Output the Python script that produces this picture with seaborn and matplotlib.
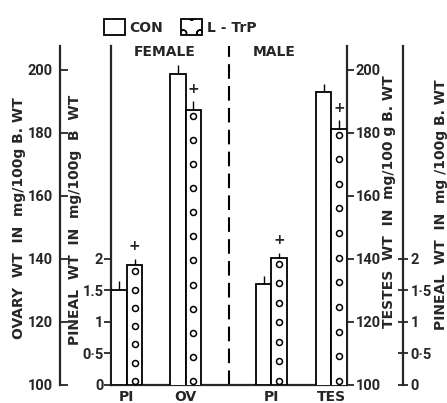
import numpy as np
import pandas as pd
import matplotlib
matplotlib.use("Agg")
import matplotlib.pyplot as plt
import matplotlib.transforms as mtransforms
import seaborn as sns
from matplotlib.patches import Patch

# ---------------- data ----------------
sexes = ["FEMALE", "MALE"]
treatments = ["CON", "L - TrP"]
pineal_con = [1.50, 1.60]
pineal_con_se = [0.15, 0.13]
pineal_trp = [1.90, 2.02]
pineal_trp_se = [0.10, 0.08]
gonad_names = ["OV", "TES"]
gonad_con = [198.7, 193.0]
gonad_con_se = [3.0, 2.6]
gonad_trp = [187.4, 181.4]
gonad_trp_se = [2.6, 2.6]
tick_labels = ["PI", "OV", "PI", "TES"]
organ_ticks = [100, 120, 140, 160, 180, 200]
pineal_ticks = [0, 0.5, 1, 1.5, 2]
pineal_left_labels = ["0", "0·5", "1", "1.5", "2"]
pineal_right_labels = ["0", "0·5", "1", "1·5", "2"]

# ---------------- layout ----------------
slots = [0.0, 1.0, 2.46, 3.48]      # female PI, OV, male PI, TES
pair_w = 0.53
pineal_ylim = (0, 5.38)
organ_ylim = (100, 207.6)
FONT = "DejaVu Sans"
NUM_FONT = ["Roboto", "DejaVu Sans"]
NUM_SIZE = 10.5

sns.set_style("white")
plt.rcParams["font.family"] = [FONT]
plt.rcParams["font.weight"] = "bold"
plt.rcParams["font.size"] = 10

W_PX, H_PX = 447, 403
fig = plt.figure(figsize=(W_PX / 100, H_PX / 100), dpi=100)
fig.patch.set_facecolor("white")
def fx(px): return px / W_PX
def fy(py): return 1 - py / H_PX
AX_L, AX_R, AX_B, AX_T = 111, 347, 385, 46
ax_p = fig.add_axes([fx(AX_L), fy(AX_B), (AX_R - AX_L) / W_PX, (AX_B - AX_T) / H_PX])
ax_o = ax_p.twinx()
ax_o2 = ax_p.twinx()
ax_p2 = ax_p.twinx()
axes_h_px = AX_B - AX_T

pin_df = pd.DataFrame({
    "pos": [slots[0], slots[2]] * 2,
    "value": pineal_con + pineal_trp,
    "se": pineal_con_se + pineal_trp_se,
    "treatment": [treatments[0]] * 2 + [treatments[1]] * 2,
})
gon_df = pd.DataFrame({
    "pos": [slots[1], slots[3]] * 2,
    "value": gonad_con + gonad_trp,
    "se": gonad_con_se + gonad_trp_se,
    "treatment": [treatments[0]] * 2 + [treatments[1]] * 2,
})

LW = 1.3
for ax, df, ylim, step in [(ax_p, pin_df, pineal_ylim, 19), (ax_o, gon_df, organ_ylim, 24)]:
    spacing = np.diff(sorted(df["pos"].unique())).min()
    sns.barplot(data=df, x="pos", y="value", hue="treatment", hue_order=treatments,
                native_scale=True, width=pair_w / spacing, dodge=True, gap=0,
                palette=["white", "white"], edgecolor="black", linewidth=LW,
                errorbar=None, legend=False, ax=ax, zorder=3)
    ax.set_ylim(*ylim)
    ax.set_xlabel("")
    ax.set_ylabel("")
    blend = mtransforms.blended_transform_factory(ax.transData, ax.transAxes)
    for _, r in df.iterrows():
        off = -pair_w / 4 if r["treatment"] == treatments[0] else pair_w / 4
        x = r["pos"] + off
        ax.errorbar([x], [r["value"]], yerr=[[0], [r["se"]]], fmt="none",
                    ecolor="black", elinewidth=1.0, capsize=0, zorder=4)
        if r["treatment"] == treatments[1]:
            ax.annotate("+", (x, r["value"] + r["se"]), xytext=(0, 9),
                        textcoords="offset points", ha="center", va="center",
                        fontsize=10, fontweight="bold", zorder=5)
            top = (r["value"] - ylim[0]) / (ylim[1] - ylim[0])
            span_px = top * axes_h_px - 10
            n = int(round(span_px / step)) + 1
            ys = np.linspace(4 / axes_h_px, top - 6 / axes_h_px, n)
            ax.plot([x] * n, ys, transform=blend, ls="none", marker="o", ms=4.3,
                    mfc="white", mec="black", mew=1.1, zorder=5)

ax_p.set_xlim(-0.27, slots[3] + 0.265)

for a in (ax_p, ax_o, ax_o2, ax_p2):
    for s in a.spines.values():
        s.set_visible(False)
        s.set_linewidth(1.6)
    a.tick_params(axis="both", which="both", length=0)

# pineal left axis (axes left edge)
ax_p.spines["left"].set_visible(True)
ax_p.spines["bottom"].set_visible(True)
ax_p.set_yticks(pineal_ticks)
ax_p.set_yticklabels(pineal_left_labels, family=NUM_FONT, fontsize=NUM_SIZE)
ax_p.tick_params(axis="y", direction="out", length=5, width=1.3, pad=0.5)
ax_p.set_xticks(slots)
ax_p.set_xticklabels(tick_labels, fontsize=10)
ax_p.tick_params(axis="x", length=0, pad=3.5)
ax_p.axvline((slots[1] + slots[2]) / 2, ymin=0, ymax=1.0, color="black",
             lw=1.5, ls=(0, (7, 3.5)), zorder=1)

# testes axis (right edge of the plot)
ax_o.spines["right"].set_visible(True)
ax_o.set_yticks(organ_ticks)
ax_o.set_yticklabels([str(t) for t in organ_ticks], family=NUM_FONT, fontsize=NUM_SIZE)
ax_o.tick_params(axis="y", direction="out", length=5, width=1.3, pad=1)

# ovary axis (far left)
ax_o2.set_ylim(*organ_ylim)
ax_o2.yaxis.set_ticks_position("left")
ax_o2.yaxis.set_label_position("left")
ax_o2.spines["left"].set_visible(True)
ax_o2.spines["left"].set_position(("axes", (60 - AX_L) / (AX_R - AX_L)))
ax_o2.set_yticks(organ_ticks)
ax_o2.set_yticklabels([str(t) for t in organ_ticks], family=NUM_FONT, fontsize=NUM_SIZE)
ax_o2.tick_params(axis="y", direction="in", length=6, width=1.3, pad=5)

# pineal axis (far right)
ax_p2.set_ylim(*pineal_ylim)
ax_p2.spines["right"].set_visible(True)
ax_p2.spines["right"].set_position(("axes", (403 - AX_L) / (AX_R - AX_L)))
ax_p2.set_yticks(pineal_ticks)
ax_p2.set_yticklabels(pineal_right_labels, family=NUM_FONT, fontsize=NUM_SIZE)
ax_p2.tick_params(axis="y", direction="inout", length=7, width=1.3, pad=2)

for a in (ax_o, ax_o2, ax_p2):
    a.set_xlim(ax_p.get_xlim())
    a.patch.set_visible(False)

# group titles
ax_p.text((165 - AX_L) / (AX_R - AX_L), (AX_B - 52) / axes_h_px, "FEMALE",
          transform=ax_p.transAxes, ha="center", va="center", fontsize=10)
ax_p.text((274 - AX_L) / (AX_R - AX_L), (AX_B - 52) / axes_h_px, "MALE",
          transform=ax_p.transAxes, ha="center", va="center", fontsize=10)

# axis titles
fig.text(fx(19), fy(218), "OVARY  WT  IN  mg/100g B. WT", rotation=90,
         ha="center", va="center", fontsize=10)
fig.text(fx(75), fy(220), "PINEAL  WT  IN  mg/100g  B  WT", rotation=90,
         ha="center", va="center", fontsize=10)
fig.text(fx(389), fy(202), "TESTES  WT  IN  mg/100 g B. WT", rotation=90,
         ha="center", va="center", fontsize=10)
fig.text(fx(441), fy(205), "PINEAL  WT  IN  mg /100g B. WT", rotation=90,
         ha="center", va="center", fontsize=10)

# legend
handles = [Patch(facecolor="white", edgecolor="black", linewidth=LW),
           Patch(facecolor="white", edgecolor="black", linewidth=LW, hatch="o")]
fig.legend(handles, treatments, loc="upper left", bbox_to_anchor=(fx(97), fy(12)),
           ncol=2, frameon=False, handlelength=1.5, handleheight=1.4,
           handletextpad=0.35, columnspacing=1.3, borderpad=0, fontsize=10)

fig.savefig("out.png", dpi=100, facecolor="white")
